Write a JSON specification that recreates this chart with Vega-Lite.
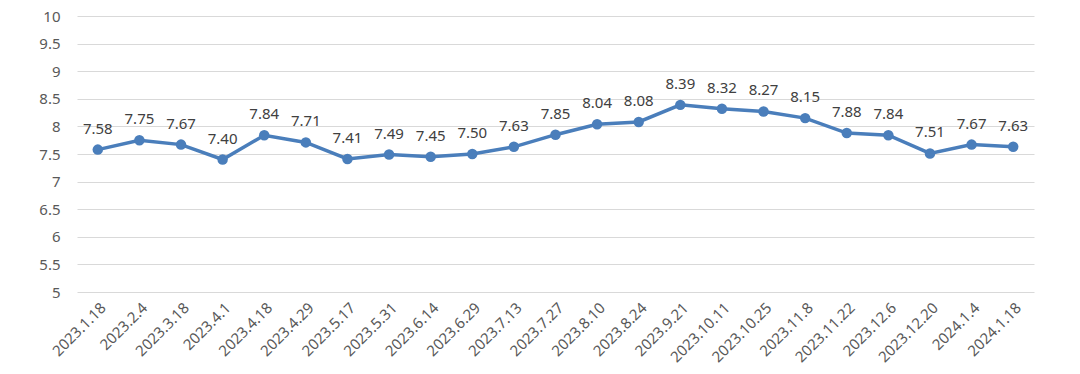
{
  "$schema": "https://vega.github.io/schema/vega-lite/v6.json",
  "autosize": "none",
  "width": 957,
  "height": 276,
  "padding": {"left": 77, "top": 16, "right": 46, "bottom": 82},
  "background": "white",
  "config": {"view": {"stroke": null}, "font": "Noto Sans"},
  "data": {"values": [
    {"date": "2023.1.18", "v": 7.58},
    {"date": "2023.2.4", "v": 7.75},
    {"date": "2023.3.18", "v": 7.67},
    {"date": "2023.4.1", "v": 7.40},
    {"date": "2023.4.18", "v": 7.84},
    {"date": "2023.4.29", "v": 7.71},
    {"date": "2023.5.17", "v": 7.41},
    {"date": "2023.5.31", "v": 7.49},
    {"date": "2023.6.14", "v": 7.45},
    {"date": "2023.6.29", "v": 7.50},
    {"date": "2023.7.13", "v": 7.63},
    {"date": "2023.7.27", "v": 7.85},
    {"date": "2023.8.10", "v": 8.04},
    {"date": "2023.8.24", "v": 8.08},
    {"date": "2023.9.21", "v": 8.39},
    {"date": "2023.10.11", "v": 8.32},
    {"date": "2023.10.25", "v": 8.27},
    {"date": "2023.11.8", "v": 8.15},
    {"date": "2023.11.22", "v": 7.88},
    {"date": "2023.12.6", "v": 7.84},
    {"date": "2023.12.20", "v": 7.51},
    {"date": "2024.1.4", "v": 7.67},
    {"date": "2024.1.18", "v": 7.63}
  ]},
  "encoding": {
    "x": {"field": "date", "type": "ordinal", "sort": null,
      "scale": {"type": "point", "padding": 0.5},
      "axis": {"title": null, "labelAngle": -45, "labelFontSize": 15, "labelColor": "#595959", "domain": false, "ticks": false, "grid": false, "labelPadding": 8}},
    "y": {"field": "v", "type": "quantitative",
      "scale": {"domain": [5, 10], "nice": false, "zero": false},
      "axis": {"title": null, "values": [5, 5.5, 6, 6.5, 7, 7.5, 8, 8.5, 9, 9.5, 10], "format": "~g", "labelFontSize": 15, "labelColor": "#595959", "domain": false, "ticks": false, "labelPadding": 17, "gridColor": "#d9d9d9", "gridWidth": 1}}
  },
  "layer": [
    {"mark": {"type": "line", "color": "#4a7ebb", "strokeWidth": 3.5}},
    {"mark": {"type": "point", "filled": true, "color": "#4a7ebb", "opacity": 1, "size": 110}},
    {"mark": {"type": "text", "dy": -21, "baseline": "middle", "fontSize": 15, "color": "#404040"},
      "encoding": {"text": {"field": "v", "type": "quantitative", "format": ".2f"}}}
  ]
}
